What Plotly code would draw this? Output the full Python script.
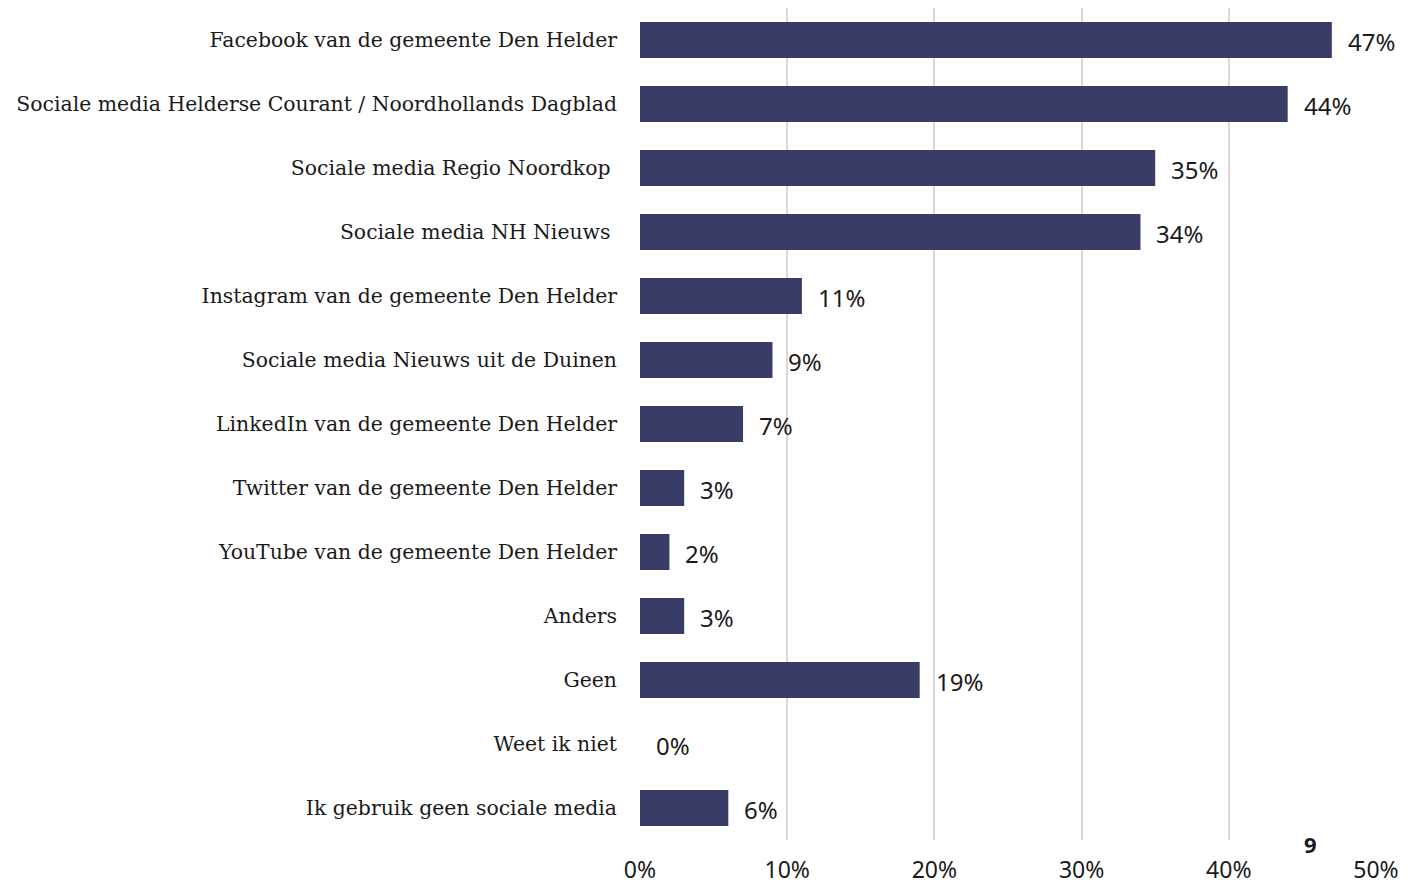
import plotly.graph_objects as go

categories = [
    "Facebook van de gemeente Den Helder",
    "Sociale media Helderse Courant / Noordhollands Dagblad",
    "Sociale media Regio Noordkop\u00a0",
    "Sociale media NH Nieuws\u00a0",
    "Instagram van de gemeente Den Helder",
    "Sociale media Nieuws uit de Duinen",
    "LinkedIn van de gemeente Den Helder",
    "Twitter van de gemeente Den Helder",
    "YouTube van de gemeente Den Helder",
    "Anders",
    "Geen",
    "Weet ik niet",
    "Ik gebruik geen sociale media",
]
values = [47, 44, 35, 34, 11, 9, 7, 3, 2, 3, 19, 0, 6]
tick_vals = [0, 10, 20, 30, 40, 50]
tick_text = ["0%", "10%", "20%", "30%", "40%", "50%"]
page_number = "9"

bar_color = "#383c66"
label_font = "DejaVu Serif"
num_font = "Noto Sans"

# page body has an 8px margin, so the figure is drawn at (8, 8)
W, H = 1416, 876
ML, MR, MT, MB = 632, 48, 0, 44

fig = go.Figure()
fig.add_trace(go.Bar(
    y=categories, x=values, orientation="h",
    marker=dict(color=bar_color, line=dict(width=0)),
    width=0.56, hoverinfo="skip",
))

for c, v in zip(categories, values):
    fig.add_annotation(x=v, y=c, text=f"{v}%", showarrow=False,
                       xanchor="left", yanchor="middle", xshift=14, yshift=-1,
                       font=dict(family=num_font, size=24, color="#1a1a1a"))

fig.add_annotation(x=(1302 - ML) / (W - ML - MR), y=(H - 836 - MB) / (H - MT - MB),
                   xref="paper", yref="paper", text=f"<b>{page_number}</b>",
                   showarrow=False, xanchor="center", yanchor="middle",
                   font=dict(family=num_font, size=22, color="#1a1a1a"))

fig.update_layout(
    width=W, height=H,
    margin=dict(l=ML, r=MR, t=MT, b=MB, autoexpand=False),
    plot_bgcolor="white", paper_bgcolor="white",
    showlegend=False,
    xaxis=dict(range=[0, 50], tickvals=tick_vals, ticktext=tick_text,
               showgrid=True, gridcolor="#d9d9d9", gridwidth=2,
               zeroline=False, showline=False, automargin=False,
               ticks="outside", ticklen=0, ticklabelstandoff=9,
               tickfont=dict(family=num_font, size=23, color="#1a1a1a")),
    yaxis=dict(autorange="reversed", showgrid=False, zeroline=False,
               showline=False, ticks="", ticklabelstandoff=22, automargin=False,
               tickfont=dict(family=label_font, size=20.4, color="#1a1a1a")),
)

fig.write_html("out.html")
